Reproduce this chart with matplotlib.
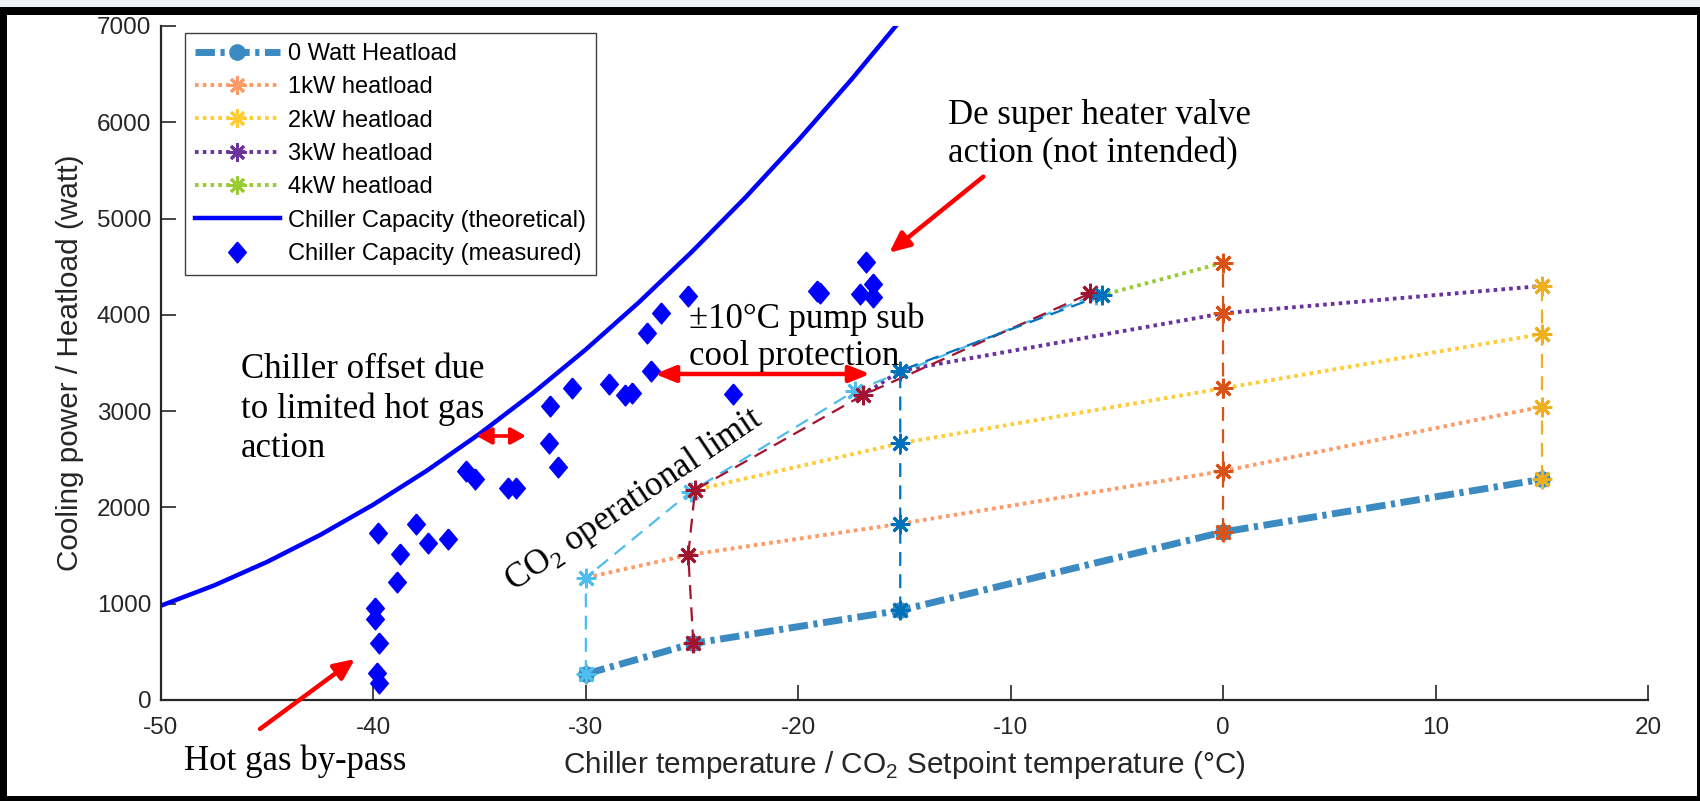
import matplotlib
matplotlib.use('Agg')
import matplotlib.pyplot as plt
from matplotlib.patches import Rectangle

plt.rcParams['font.family'] = ['Liberation Sans', 'DejaVu Sans']
plt.rcParams['mathtext.fontset'] = 'custom'
plt.rcParams['mathtext.rm'] = 'Liberation Serif'
plt.rcParams['mathtext.sf'] = 'Liberation Sans'
plt.rcParams['lines.scale_dashes'] = False
plt.rcParams['axes.unicode_minus'] = False

# ---------------- data ----------------
heatload_labels = ['0 Watt Heatload', '1kW heatload', '2kW heatload',
                   '3kW heatload', '4kW heatload']

# CO2 temperature (degC) / cooling power (W) for each heat load
hl0_t = [-30.0, -24.94, -15.2, 0.0, 15.0]
hl0_p = [270, 588, 931, 1745, 2292]
hl1_t = [-30.0, -25.18, -15.2, 0.0, 15.0]
hl1_p = [1270, 1506, 1830, 2378, 3046]
hl2_t = [-25.05, -24.86, -15.2, 0.0, 15.0]
hl2_p = [2165, 2181, 2666, 3237, 3801]
hl3_t = [-17.35, -16.95, -15.2, 0.0, 15.0]
hl3_p = [3210, 3167, 3420, 4016, 4300]
hl4_t = [-6.0, -6.27, -5.68, 0.0]
hl4_p = [4210, 4223, 4206, 4541]

# same runs grouped by CO2 setpoint (-30, -25, -15, 0, 15 degC)
sp_m30_t = [-30.0, -30.0, -25.05, -17.35, -6.0]
sp_m30_p = [270, 1270, 2165, 3210, 4210]
sp_m25_t = [-24.94, -25.18, -24.86, -16.95, -6.27]
sp_m25_p = [588, 1506, 2181, 3167, 4223]
sp_m15_t = [-15.2, -15.2, -15.2, -15.2, -5.68]
sp_m15_p = [931, 1830, 2666, 3420, 4206]
sp_0_t = [0.0, 0.0, 0.0, 0.0, 0.0]
sp_0_p = [1745, 2378, 3237, 4016, 4541]
sp_15_t = [15.0, 15.0, 15.0, 15.0]
sp_15_p = [2292, 3046, 3801, 4300]

# chiller capacity, theoretical
cap_t = [-50, -47.5, -45, -42.5, -40, -37.5, -35, -32.5, -30, -27.5,
         -25, -22.5, -20, -17.5, -15]
cap_p = [980, 1190, 1435, 1715, 2030, 2380, 2765, 3186, 3641, 4131,
         4657, 5217, 5814, 6444, 7109]

# chiller capacity, measured
meas_t = [-39.93, -39.93, -39.74, -39.85, -39.72, -39.77, -38.75, -38.9,
          -38.0, -37.42, -36.5, -35.66, -35.22, -33.65, -33.29, -31.73,
          -31.3, -31.69, -30.67, -28.9, -28.16, -27.84, -26.95, -27.14,
          -26.48, -25.18, -23.06, -19.1, -19.0, -17.09, -16.83, -16.5, -16.47]
meas_p = [952, 838, 588, 277, 173, 1738, 1513, 1229,
          1824, 1634, 1672, 2381, 2292, 2198, 2198, 2666,
          2417, 3053, 3236, 3278, 3167, 3191, 3420, 3808,
          4016, 4196, 3178, 4250, 4225, 4216, 4545, 4317, 4188]

x_ticks = [-50, -40, -30, -20, -10, 0, 10, 20]
y_ticks = [0, 1000, 2000, 3000, 4000, 5000, 6000, 7000]

# ---------------- figure ----------------
W, H = 1700, 801
fig = plt.figure(figsize=(W / 100, H / 100), dpi=100)
ax = fig.add_axes([161 / W, 1 - 700 / H, (1648 - 161) / W, (700 - 26) / H])

AST = (8, 2, 0)          # asterisk marker
hl_colors = ['#3B8BC2', '#FF9A66', '#FFCC33', '#6A329C', '#99CC33']
sp_colors = ['#4DBEEE', '#A2142F', '#0072BD', '#D95319', '#EDB120']

ax.plot(hl0_t, hl0_p, color=hl_colors[0], lw=5.0, dashes=(14, 4, 3, 4),
        marker='o', ms=11, mfc=hl_colors[0], mec=hl_colors[0],
        label=heatload_labels[0])
for t, p, c, lab in zip([hl1_t, hl2_t, hl3_t, hl4_t],
                        [hl1_p, hl2_p, hl3_p, hl4_p],
                        hl_colors[1:], heatload_labels[1:]):
    ax.plot(t, p, color=c, lw=2.8, dashes=(2.6, 3.0), marker=AST, ms=13,
            mew=2, mec=c, label=lab)

ax.plot(cap_t, cap_p, color='#0000FF', lw=3.2,
        label='Chiller Capacity (theoretical)')
diamond = [(0, 1), (0.85, 0), (0, -1), (-0.85, 0), (0, 1)]
ax.plot(meas_t, meas_p, ls='none', marker=diamond, ms=15,
        mfc='#0000FF', mec='#0000FF', label='Chiller Capacity (measured)')

for t, p, c in zip([sp_m30_t, sp_m25_t, sp_m15_t, sp_0_t, sp_15_t],
                   [sp_m30_p, sp_m25_p, sp_m15_p, sp_0_p, sp_15_p],
                   sp_colors):
    ax.plot(t, p, color=c, lw=1.6, dashes=(10, 6), marker=AST, ms=14,
            mew=2, mec=c, label='_nolegend_')

ax.set_xlim(-50, 20)
ax.set_ylim(0, 7000)
ax.set_xticks(x_ticks)
ax.set_yticks(y_ticks)
for s in ['top', 'right']:
    ax.spines[s].set_visible(False)
for s in ['left', 'bottom']:
    ax.spines[s].set_color('#262626')
    ax.spines[s].set_linewidth(1.6)
ax.tick_params(direction='in', length=11, width=1.2, colors='#262626',
               labelsize=17.5)
ax.tick_params(axis='x', pad=12)
ax.tick_params(axis='y', pad=7)

ax.set_xlabel('Chiller temperature / CO$_\\mathsf{2}$ Setpoint temperature (°C)',
              fontsize=21.4, color='#262626')
ax.xaxis.set_label_coords(0.5, -0.072)
ax.set_ylabel('Cooling power / Heatload (watt)', fontsize=21.4,
              color='#262626')
ax.yaxis.set_label_coords(-0.052, 0.5)

leg = ax.legend(loc='upper left', bbox_to_anchor=(0.0161, 0.9896),
                borderaxespad=0, fontsize=17, handlelength=3.6,
                handletextpad=0.35, borderpad=0.42, labelspacing=0.48,
                fancybox=False, framealpha=1, edgecolor='#404040',
                numpoints=1)
leg.get_frame().set_linewidth(1.0)

# ---------------- annotations ----------------
serif = ['Liberation Serif', 'DejaVu Serif']
arrow1 = dict(arrowstyle='-|>,head_length=0.62,head_width=0.28', lw=3.2,
              color='red', mutation_scale=20, shrinkA=0, shrinkB=0)
arrow2 = dict(arrowstyle='<|-|>,head_length=0.62,head_width=0.25', lw=3.2,
              color='red', mutation_scale=20, shrinkA=0, shrinkB=0)
arrow3 = dict(arrowstyle='<|-|>,head_length=0.45,head_width=0.25', lw=2.6,
              color='red', mutation_scale=20, shrinkA=0, shrinkB=0)

# y positions below are the baselines of the last text line
ax.text(-12.94, 5587, 'De super heater valve\naction (not intended)',
        family=serif, fontsize=25, ha='left', va='baseline', linespacing=1.2)
ax.annotate('', xy=(-15.72, 4645), xytext=(-11.29, 5435),
            arrowprops=arrow1, annotation_clip=False)

ax.text(-25.14, 3479, '±10°C pump sub\ncool protection',
        family=serif, fontsize=25, ha='left', va='baseline', linespacing=1.15)
ax.annotate('', xy=(-16.62, 3386), xytext=(-26.75, 3386),
            arrowprops=arrow2, annotation_clip=False)

ax.text(-46.25, 2526, 'Chiller offset due\nto limited hot gas\naction',
        family=serif, fontsize=25, ha='left', va='baseline', linespacing=1.25)
ax.annotate('', xy=(-32.82, 2742), xytext=(-35.14, 2742),
            arrowprops=arrow3, annotation_clip=False)

ax.text(-33.43, 1122, 'CO$_\\mathrm{2}$ operational limit', family=serif,
        fontsize=25, rotation=34, rotation_mode='anchor', ha='left',
        va='baseline')

ax.text(-48.93, -727, 'Hot gas by-pass', family=serif, fontsize=25,
        ha='left', va='baseline')
ax.annotate('', xy=(-40.87, 426), xytext=(-45.34, -301),
            arrowprops=arrow1, annotation_clip=False)

# ---------------- frame ----------------
def band(x0, y0, x1, y1, color):
    fig.add_artist(Rectangle((x0 / W, 1 - y1 / H), (x1 - x0) / W,
                             (y1 - y0) / H, transform=fig.transFigure,
                             facecolor=color, edgecolor='none', zorder=20))

band(0, 0, W, 7, '#F1F2F5')
band(0, 7, W, 15, 'black')
band(0, 7, 7, H, 'black')
band(0, 796, W, H, 'black')
band(1697, 7, W, H, 'black')

fig.savefig('out.png', dpi=100)
